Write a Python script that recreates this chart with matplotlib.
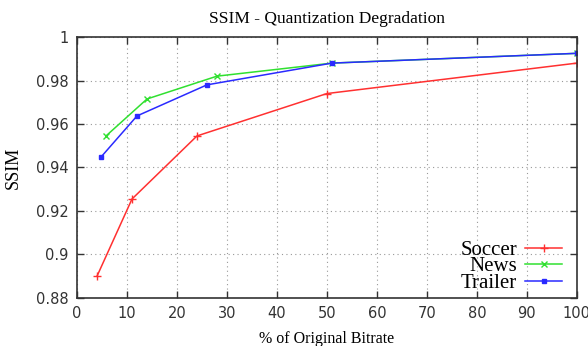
import matplotlib
matplotlib.use("Agg")
import matplotlib.pyplot as plt

# Bitrate (% of original) and SSIM per clip
soccer_rate = [4, 11, 24, 50, 100]
soccer_ssim = [0.890, 0.9255, 0.9545, 0.974, 0.988]

news_rate = [5.8, 14, 28, 51, 100]
news_ssim = [0.9545, 0.9715, 0.982, 0.988, 0.9925]

trailer_rate = [4.8, 12, 26, 51, 100]
trailer_ssim = [0.9448, 0.9637, 0.978, 0.988, 0.9925]

x_ticks = list(range(0, 101, 10))
y_ticks = [0.88, 0.9, 0.92, 0.94, 0.96, 0.98, 1.0]
y_tick_labels = ["0.88", "0.9", "0.92", "0.94", "0.96", "0.98", "1"]

serif = "Liberation Serif"

fig = plt.figure(figsize=(5.88, 3.46), dpi=100)
ax = fig.add_axes([0.131, 0.139, 0.850, 0.754])

ax.plot(soccer_rate, soccer_ssim, color="#ff3030", marker="+", ms=6, lw=1.1,
        label="Soccer")
ax.plot(news_rate, news_ssim, color="#30e030", marker="x", ms=5, lw=1.1,
        label="News")
ax.plot(trailer_rate, trailer_ssim, color="#2a2aff", marker="s", ms=3.5,
        lw=1.1, label="Trailer")

ax.set_xlim(0, 100)
ax.set_ylim(0.88, 1.0)
ax.set_xticks(x_ticks)
ax.set_yticks(y_ticks)
ax.set_yticklabels(y_tick_labels)
ax.tick_params(direction="in", top=True, right=True, length=5, width=1,
               labelsize=10.5, colors="#333333", pad=6)
for s in ax.spines.values():
    s.set_linewidth(1.2)
    s.set_color("#333333")
ax.grid(True, linestyle=(0, (1, 3)), color="#999999", linewidth=0.8)

ax.set_title("SSIM - Quantization Degradation", family=serif, fontsize=12.5,
             pad=10)
ax.set_xlabel("% of Original Bitrate", family=serif, fontsize=11.5,
              labelpad=7)
ax.set_ylabel("SSIM", family=serif, fontsize=13, labelpad=10)

# gnuplot-style key: right-aligned names, samples on the right
leg = ax.legend(loc="lower right", bbox_to_anchor=(0.974, 0.011),
                frameon=False, markerfirst=False,
                prop={"family": serif, "size": 15}, handlelength=1.75,
                labelspacing=-0.15, borderaxespad=0, borderpad=0.1,
                handletextpad=0.4)
for t in leg.get_texts():
    t.set_ha("right")

fig.savefig("out.png", dpi=100)
